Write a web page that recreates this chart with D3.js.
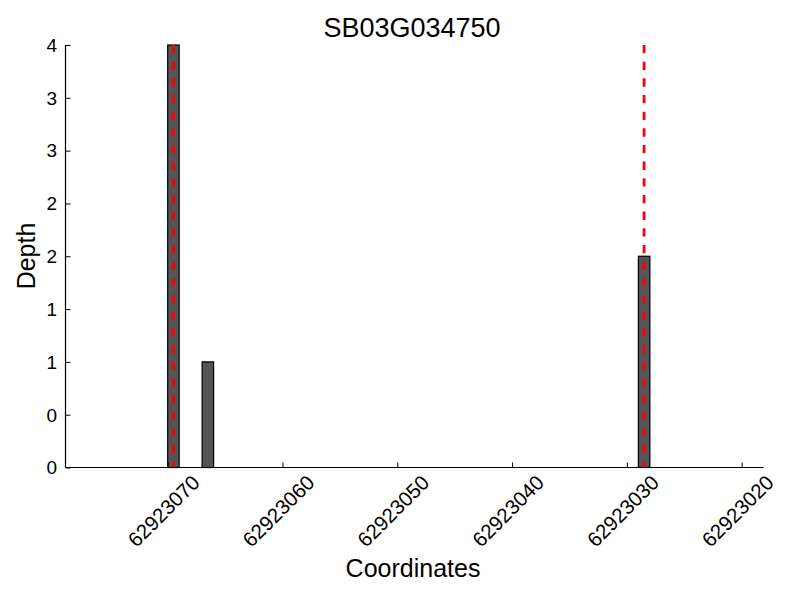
<!DOCTYPE html>
<html>
<head>
<meta charset="utf-8">
<script src="https://cdn.jsdelivr.net/npm/d3@7"></script>
<style>
  html, body { margin: 0; padding: 0; background: #fff; }
  text { font-family: "Liberation Sans", Arial, Helvetica, sans-serif; fill: #000; }
</style>
</head>
<body>
<svg id="chart" width="800" height="600"></svg>
<script>
// ---- data ----
const title = "SB03G034750";
const barPositions = [62923069, 62923066, 62923028];   // bar left coordinate (bar spans [x, x+1])
const barDepths = [4, 1, 2];
const markerPositions = [62923069.5, 62923028.5];      // red dashed lines
const xTickValues = [62923070, 62923060, 62923050, 62923040, 62923030, 62923020];
const yTickValues = [0, 0.5, 1, 1.5, 2, 2.5, 3, 3.5, 4];
const xDomain = [62923078.9, 62923018.1];
const yDomain = [0, 4];

(function () {
const svg = d3.select("#chart");
const pLeft = 65.5, pRight = 763.5, pTop = 45, pBottom = 467.5;

const x = d3.scaleLinear().domain(xDomain).range([pLeft, pRight]);
const y = d3.scaleLinear().domain(yDomain).range([pBottom, pTop]);

// bars
svg.append("g").selectAll("rect")
  .data(barPositions.map((p, i) => ({p, d: barDepths[i]})))
  .join("rect")
  .attr("x", d => x(d.p + 1))
  .attr("width", d => x(d.p) - x(d.p + 1))
  .attr("y", d => y(d.d))
  .attr("height", d => y(0) - y(d.d))
  .attr("fill", "#555555")
  .attr("stroke", "#000")
  .attr("stroke-width", 1.2);

// red dashed markers
svg.append("g").selectAll("line")
  .data(markerPositions)
  .join("line")
  .attr("x1", d => x(d)).attr("x2", d => x(d))
  .attr("y1", y(4)).attr("y2", y(0))
  .attr("stroke", "#ff0000")
  .attr("stroke-width", 2.8)
  .attr("stroke-dasharray", "8.33,8.33");

// x axis (ticks inward)
const xAxis = d3.axisBottom(x).tickValues(xTickValues).tickSize(-5).tickFormat("");
const gx = svg.append("g").attr("transform", `translate(0,${pBottom})`).call(xAxis);
gx.select(".domain").attr("stroke", "#000").attr("stroke-width", 1.2).attr("d", `M${pLeft},0H${pRight}`);
gx.selectAll(".tick line").attr("stroke", "#000");

svg.append("g").selectAll("text")
  .data(xTickValues)
  .join("text")
  .attr("transform", d => `translate(${x(d) - 4},511) rotate(-45)`)
  .attr("text-anchor", "middle")
  .attr("dy", "0.35em")
  .style("font-size", "20.5px")
  .text(d => d3.format("d")(d));

// y axis (ticks inward)
const yAxis = d3.axisLeft(y).tickValues(yTickValues).tickSize(-5).tickFormat("");
const gy = svg.append("g").attr("transform", `translate(${pLeft},0)`).call(yAxis);
gy.select(".domain").attr("stroke", "#000").attr("stroke-width", 1.2).attr("d", `M0,${pBottom}V${pTop}`);
gy.selectAll(".tick line").attr("stroke", "#000");

svg.append("g").selectAll("text")
  .data(yTickValues)
  .join("text")
  .attr("x", 57)
  .attr("y", d => y(d))
  .attr("dy", "0.36em")
  .attr("text-anchor", "end")
  .style("font-size", "19px")
  .text(d => Math.floor(d));

// title and axis labels
svg.append("text").attr("x", 412).attr("y", 37).attr("text-anchor", "middle")
  .style("font-size", "27px").text(title);
svg.append("text").attr("x", 413).attr("y", 577).attr("text-anchor", "middle")
  .style("font-size", "25px").text("Coordinates");
svg.append("text").attr("transform", "translate(35,256) rotate(-90)").attr("text-anchor", "middle")
  .style("font-size", "25px").text("Depth");
})();
</script>
</body>
</html>
